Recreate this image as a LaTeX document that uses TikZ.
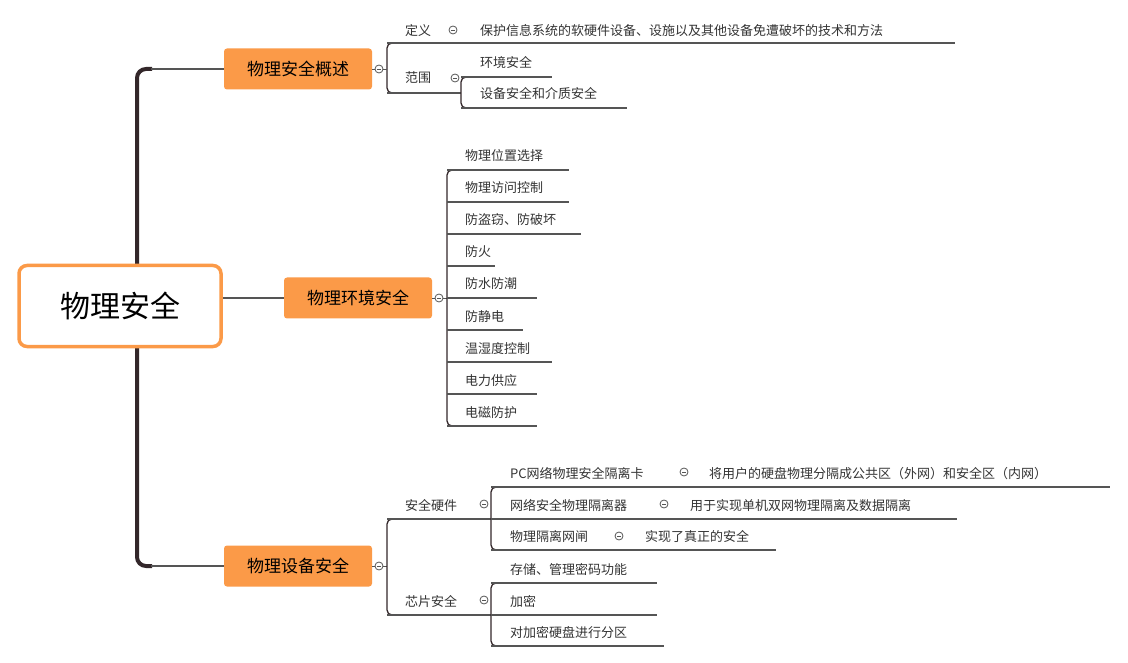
\documentclass[tikz,border=0pt]{standalone}
\usepackage{fontspec}
\setmainfont{Noto Sans CJK SC}
\definecolor{org}{HTML}{FB9A48}
\definecolor{spine}{HTML}{33272A}
\definecolor{ln}{HTML}{555555}
\definecolor{tx}{HTML}{333333}
\begin{document}
\begin{tikzpicture}[x=1pt,y=-1pt,
  topic/.style={fill=org,rounded corners=3,minimum width=148,minimum height=41,font=\fontsize{17}{20}\selectfont,text=black,inner sep=0},
  lab/.style={anchor=base west,font=\fontsize{13}{15}\selectfont,text=tx,inner sep=0},
  ul/.style={draw=ln,line width=1.3},
  br/.style={draw=spine,line width=1.3,rounded corners=5},
  tog/.style={draw=ln,fill=white,circle,minimum size=8,inner sep=0,line width=0.8}]
\useasboundingbox (0,0) rectangle (1128,663);
% spine
\draw[spine,line width=4,rounded corners=9] (152,69) -- (137,69) -- (137,566) -- (152,566);
\draw[ln,line width=1.2] (151,69) -- (224,69);
\draw[ln,line width=1.2] (151,566) -- (224,566);
\draw[ln,line width=1.2] (222,298) -- (285,298);
\node[draw=org,line width=3.5,fill=white,rounded corners=8,minimum width=202,minimum height=81,font=\fontsize{30}{34}\selectfont,text=black] (root) at (120,306) {物理安全};
\node[topic] (t1) at (298,69) {物理安全概述};
\node[topic] (t2) at (358,298) {物理环境安全};
\node[topic] (t3) at (298,566) {物理设备安全};
% branch 1
\draw[br] (397,43) -- (387,43) -- (387,93) -- (397,93);
\draw[ln] (t1.east) -- (387,69);
\node[tog] (c1) at (379,69) {};
\node[lab] (def) at (405,36) {定义};
\draw[ul] (387,43) -- (460,43) coordinate (d1);
\node[lab] (defv) at (480,36) {保护信息系统的软硬件设备、设施以及其他设备免遭破坏的技术和方法};
\draw[ul] (d1) -- (955,43);
\node[tog] (c2) at (453,30) {};
\node[lab] (rng) at (405,83) {范围};
\draw[ul] (387,93) -- (461,93);
\node[tog] (c3) at (455,78) {};
\draw[br] (471,77) -- (461,77) -- (461,108) -- (471,108);
\node[lab] (r1) at (480,68) {环境安全};
\draw[ul] (461,77) -- (552,77);
\node[lab] (r2) at (480,99) {设备安全和介质安全};
\draw[ul] (461,108) -- (627,108);
% branch 2
\draw[ln] (t2.east) -- (447,298);
\node[tog] (c4) at (439,298) {};
\draw[br] (457,170) -- (447,170) -- (447,426) -- (457,426);
\foreach \t/\y/\e [count=\i] in {物理位置选择/170/569,物理访问控制/202/569,防盗窃、防破坏/234/581,防火/266/495,防水防潮/298/537,防静电/330/523,温湿度控制/362/552,电力供应/394/537,电磁防护/426/537}{
  \node[lab] (e\i) at (465,\y-9) {\t};
  \draw[ul] (447,\y) -- (\e,\y);
}
% branch 3
\draw[ln] (t3.east) -- (387,566);
\node[tog] (c5) at (379,566) {};
\draw[br] (397,519) -- (387,519) -- (387,615) -- (397,615);
\node[lab] (hw) at (405,510) {安全硬件};
\draw[ul] (387,519) -- (491,519);
\node[tog] (c6) at (484,504) {};
\draw[br] (501,487) -- (491,487) -- (491,550) -- (501,550);
\node[lab] (h1) at (510,478) {PC网络物理安全隔离卡};
\draw[ul] (491,487) -- (697,487);
\node[tog] (c7) at (684,472) {};
\node[lab] (h1v) at (709,478) {将用户的硬盘物理分隔成公共区（外网）和安全区（内网）};
\draw[ul] (697,487) -- (1110,487);
\node[lab] (h2) at (510,510) {网络安全物理隔离器};
\draw[ul] (491,519) -- (677,519);
\node[tog] (c8) at (664,504) {};
\node[lab] (h2v) at (690,510) {用于实现单机双网物理隔离及数据隔离};
\draw[ul] (677,519) -- (957,519);
\node[lab] (h3) at (510,541) {物理隔离网闸};
\draw[ul] (491,550) -- (632,550);
\node[tog] (c9) at (619,536) {};
\node[lab] (h3v) at (645,541) {实现了真正的安全};
\draw[ul] (632,550) -- (776,550);
\node[lab] (cp) at (405,606) {芯片安全};
\draw[ul] (387,615) -- (491,615);
\node[tog] (c10) at (484,600) {};
\draw[br] (501,583) -- (491,583) -- (491,646) -- (501,646);
\node[lab] (p1) at (510,574) {存储、管理密码功能};
\draw[ul] (491,583) -- (657,583);
\node[lab] (p2) at (510,606) {加密};
\draw[ul] (491,615) -- (657,615);
\node[lab] (p3) at (510,637) {对加密硬盘进行分区};
\draw[ul] (491,646) -- (664,646);
% minus signs in toggles
\foreach \c in {c1,c2,c3,c4,c5,c6,c7,c8,c9,c10}{\draw[ln,line width=0.8] ([xshift=-2]\c.center) -- ([xshift=2]\c.center);}
\end{tikzpicture}
\end{document}
